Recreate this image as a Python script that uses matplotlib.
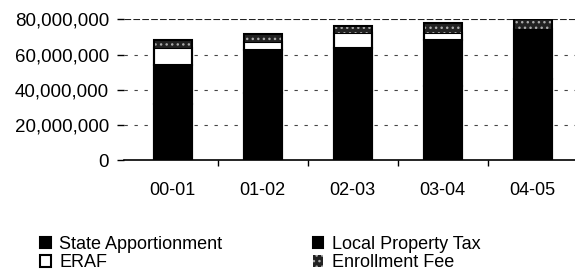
import numpy as np
import matplotlib
matplotlib.use("Agg")
from matplotlib import pyplot as plt
from matplotlib.ticker import FuncFormatter

plt.rcParams["font.family"] = ["Liberation Sans", "DejaVu Sans"]

# values in millions of dollars
years = ["00-01", "01-02", "02-03", "03-04", "04-05"]
state_apportionment = [32.0, 38.0, 39.0, 42.0, 46.0]
local_property_tax = [22.0, 24.5, 24.7, 26.2, 28.4]
eraf = [10.0, 4.5, 8.4, 3.9, 0.0]
enrollment_fee = [4.5, 4.5, 3.9, 5.6, 5.6]
yticks = [0, 20, 40, 60, 80]

fig = plt.figure(figsize=(5.75, 2.74), dpi=100)
ax = fig.add_axes([0.216, 0.416, 0.784, 0.513])

x = np.arange(len(years))
w = 0.42
sa = np.array(state_apportionment) * 1e6
lp = np.array(local_property_tax) * 1e6
er = np.array(eraf) * 1e6
ef = np.array(enrollment_fee) * 1e6

# grid first so the bars sit on top
for v in yticks[1:-1]:
    ax.axhline(v * 1e6, color="#444444", lw=0.8, ls=(0, (3, 6)), zorder=0)
ax.axhline(80e6, color="#222222", lw=0.8, ls=(0, (6, 2)), zorder=0)

b1 = ax.bar(x, sa, w, color="black", edgecolor="black", lw=1.5, label="State Apportionment", zorder=2)
b2 = ax.bar(x, lp, w, bottom=sa, color="black", edgecolor="black", lw=1.5, label="Local Property Tax", zorder=2)
b3 = ax.bar(x, er, w, bottom=sa + lp, color="white", edgecolor="black", lw=1.5, label="ERAF", zorder=2)
b4 = ax.bar(x, ef, w, bottom=sa + lp + er, color="#222222", edgecolor="#aaaaaa", hatch="...",
            lw=0, label="Enrollment Fee", zorder=2)
ax.bar(x, sa + lp + er + ef, w, fill=False, edgecolor="black", lw=1.5, zorder=3)

ax.set_ylim(0, 80e6)
ax.set_xlim(-0.54, 4.47)
ax.set_yticks([v * 1e6 for v in yticks])
ax.yaxis.set_major_formatter(FuncFormatter(lambda v, p: f"{v:,.0f}"))
ax.tick_params(axis="y", length=5, width=1, pad=6, labelsize=13.5)
ax.set_xticks(x)
ax.set_xticklabels(years, fontsize=13)
ax.tick_params(axis="x", length=0, pad=16)
ax.set_xticks(x[:-1] + 0.5, minor=True)
ax.tick_params(axis="x", which="minor", length=4, width=1)

for s in ["top", "right", "left"]:
    ax.spines[s].set_visible(False)
ax.spines["bottom"].set_linewidth(1.2)

handles = [b1, b3, b2, b4]
labels = ["State Apportionment", "ERAF", "Local Property Tax", "Enrollment Fee"]
fig.legend(handles, labels, ncol=2, frameon=False, fontsize=13,
           loc="upper left", bbox_to_anchor=(0.07, 0.14),
           handlelength=0.6, handleheight=0.6, handletextpad=0.45,
           columnspacing=5.0, labelspacing=0.1, borderaxespad=0, borderpad=0)

fig.savefig("out.png", dpi=100)
